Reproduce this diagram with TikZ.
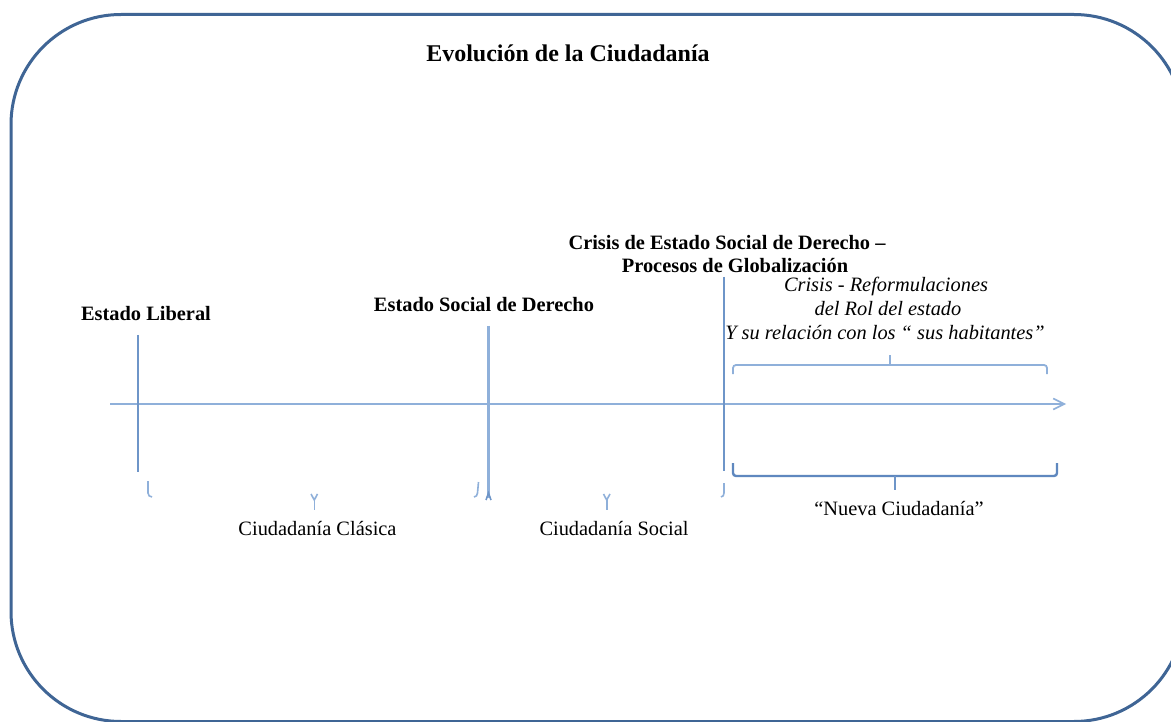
\documentclass[tikz,border=0pt]{standalone}
\usepackage{fontspec}
\setmainfont{Liberation Serif}[ItalicFont={Liberation Serif Italic},BoldFont={Liberation Serif Bold}]
\usetikzlibrary{arrows.meta}
\definecolor{frameblue}{HTML}{3F6595}
\definecolor{midblue}{HTML}{6E95C8}
\definecolor{lightblue}{HTML}{8FB0DA}
\definecolor{darkline}{HTML}{5F88BF}
\begin{document}
\begin{tikzpicture}[x=1pt,y=-1pt,
  lbl/.style={font=\fontsize{20.4}{24}\selectfont, inner sep=0pt, anchor=base},
  blbl/.style={lbl, font=\fontsize{20.4}{24}\selectfont\bfseries},
  ilbl/.style={lbl, font=\fontsize{20.4}{24}\selectfont\itshape},
  frame/.style={draw=frameblue, line width=3pt, rounded corners=110pt},
  axisline/.style={draw=lightblue, line width=1.6pt, -{Straight Barb[length=11pt,width=11pt]}},
  tick/.style={draw=midblue, line width=2pt},
  thicktick/.style={draw=lightblue, line width=3pt},
  bracetop/.style={draw=lightblue, line width=1.8pt, rounded corners=3pt},
  bracebot/.style={draw=darkline, line width=2.4pt, rounded corners=3pt},
  frag/.style={draw=lightblue, line width=1.6pt}]
\useasboundingbox (0,0) rectangle (1171,722);
\fill[white] (0,0) rectangle (1171,722);
% frame
\draw[frame] (11,14.5) rectangle (1184,721.5);
% title
\node[lbl, font=\fontsize{24}{28}\selectfont\bfseries] (title) at (568,62) {Evolución de la Ciudadanía};
% labels above
\node[blbl] (liberal) at (146,321) {Estado Liberal};
\node[blbl] (social) at (484,312) {Estado Social de Derecho};
\node[blbl] (crisisA) at (727,250) {Crisis de Estado Social de Derecho –};
\node[blbl] (crisisB) at (735,273) {Procesos de Globalización};
\node[ilbl] (refA) at (886,292) {Crisis - Reformulaciones};
\node[ilbl] (refB) at (888,316) {del Rol del estado};
\node[ilbl] (refC) at (885,340) {Y su relación con los “ sus habitantes”};
% labels below
\node[lbl] (clasica) at (317.5,535) {Ciudadanía Clásica};
\node[lbl] (socialc) at (614,535) {Ciudadanía Social};
\node[lbl] (nueva) at (899,515) {“Nueva Ciudadanía”};
% axis
\coordinate (axL) at (110,404);
\coordinate (axR) at (1066,404);
\draw[axisline] (axL) -- (axR);
% vertical markers
\coordinate (v1t) at (137.5,335); \coordinate (v1b) at (137.5,472);
\coordinate (v2t) at (488.5,326); \coordinate (v2b) at (488.5,498);
\coordinate (v3t) at (723.5,277); \coordinate (v3b) at (723.5,471);
\draw[tick] (v1t) -- (v1b);
\draw[thicktick] (v2t) -- (v2b);
\draw[tick] (v3t) -- (v3b);
\draw[frag, draw=midblue] (486,500) -- (488.5,493) -- (491,500);
% top brace
\coordinate (tbL) at (733,374); \coordinate (tbM) at (890,365);
\coordinate (tbR) at (1047,374); \coordinate (tbT) at (890,355);
\draw[bracetop] (tbL) -- (733,365) -- (tbM) -- (1047,365) -- (tbR);
\draw[bracetop] (tbM) -- (tbT);
% bottom brace
\coordinate (bbL) at (733,463); \coordinate (bbM) at (895,476);
\coordinate (bbR) at (1057,463); \coordinate (bbT) at (895,490);
\draw[bracebot] (bbL) -- (733,476) -- (bbM) -- (1057,476) -- (bbR);
\draw[bracebot, draw=midblue] (bbM) -- (bbT);
% fragments of the lower braces
\draw[frag] (148,481) -- (148,493) to[out=-90,in=180] (152,497);
\draw[frag] (311,494) -- (314.3,500) -- (317.5,494);
\draw[frag] (314.3,500) -- (314.3,510);
\draw[frag] (478.5,482) -- (477.5,493) to[out=-90,in=0] (474,497);
\draw[frag] (603.5,494) -- (606.7,500) -- (610,494);
\draw[frag] (606.7,500) -- (606.7,510);
\draw[frag] (724,483) -- (724,493) to[out=-90,in=0] (721,497);
\end{tikzpicture}
\end{document}
